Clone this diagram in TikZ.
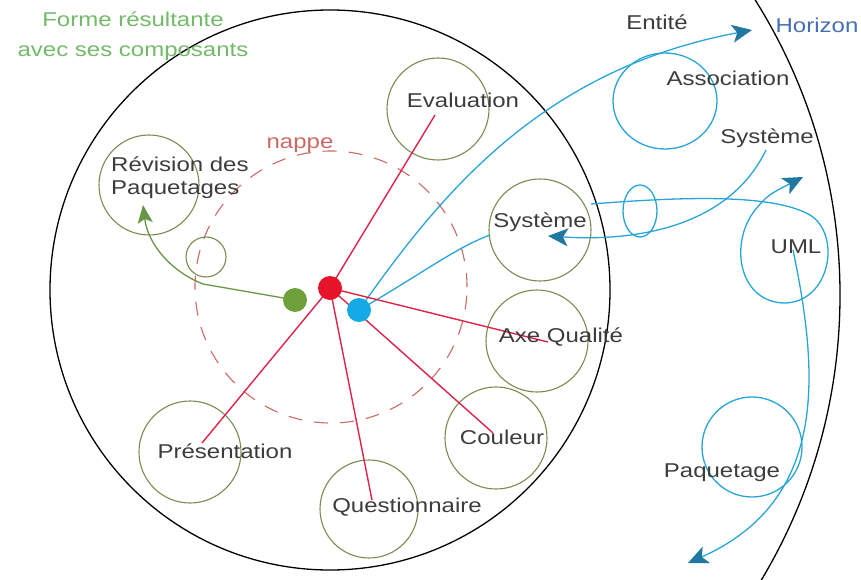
\documentclass[tikz,border=0pt]{standalone}
\usepackage{fontspec}
\setmainfont{Liberation Sans}[FakeStretch=1.2]
\usetikzlibrary{arrows.meta}
\definecolor{gcol}{RGB}{120,140,80}
\definecolor{rcol}{RGB}{222,35,75}
\definecolor{bcol}{RGB}{40,165,215}
\definecolor{dcol}{RGB}{205,105,100}
\definecolor{txtcol}{RGB}{60,60,60}
\definecolor{tipcol}{RGB}{30,120,160}
\definecolor{gtxt}{RGB}{115,185,105}
\definecolor{htxt}{RGB}{70,110,180}
\definecolor{garr}{RGB}{105,150,70}
\definecolor{rdotc}{RGB}{230,20,40}
\definecolor{gdotc}{RGB}{110,160,60}
\definecolor{bdotc}{RGB}{20,170,230}
\begin{document}
\begin{tikzpicture}[x=1pt,y=-1pt,
  comp/.style={draw=gcol,line width=1.1pt,circle,minimum size=#1,inner sep=0pt},
  lbl/.style={text=txtcol,inner sep=0pt,font=\fontsize{20}{23}\selectfont},
  rline/.style={draw=rcol,line width=1.4pt},
  bline/.style={draw=bcol,line width=1.3pt},
  dotn/.style={circle,minimum size=24pt,inner sep=0pt}]
\useasboundingbox (0,0) rectangle (861,580);
% horizon
\begin{scope}
\clip (0,0) rectangle (861,580);
\draw[black,line width=1.3pt] (285,295) circle[radius=555];
\end{scope}
% big world circle
\node[draw=black,line width=1.3pt,circle,minimum size=560pt,inner sep=0pt] (world) at (330,290) {};
% nappe
\node[draw=dcol,line width=1.1pt,dash pattern=on 14pt off 12pt,circle,minimum size=272pt,inner sep=0pt] (nappec) at (331,287) {};
% component circles
\node[comp=102pt] (eval) at (438,109) {};
\node[comp=100pt] (rev) at (149,185) {};
\node[comp=102pt] (sys) at (540,230) {};
\node[comp=102pt] (axe) at (537,341) {};
\node[comp=102pt] (coul) at (496,438) {};
\node[comp=102pt] (pres) at (190,452) {};
\node[comp=98pt] (quest) at (369,509) {};
\node[comp=40pt] (small) at (206,257) {};
% dots positions
\coordinate (rc) at (330,288);
\coordinate (gc) at (295,300);
\coordinate (bc) at (359,310);
% endpoints
\coordinate (evalE) at (435,115);
\coordinate (presE) at (202,443);
\coordinate (questE) at (372,500);
\coordinate (coulE) at (493,433);
\coordinate (axeE) at (548,342);
\coordinate (entTip) at (752,30);
\coordinate (sysW) at (490,235);
\coordinate (s2start) at (766,150);
\coordinate (sysTip) at (548,236);
\coordinate (sysE) at (591,204);
\coordinate (umlTip) at (803,177);
\coordinate (umlS) at (793,250);
\coordinate (paqTip) at (688,563);
\coordinate (gbend) at (203,284);
\coordinate (gtip) at (143,205);
% blue loops
\draw[bline] (640,211) ellipse[x radius=17,y radius=26];
\draw[bline] (665,101) ellipse[x radius=52,y radius=48];
\draw[bline] (752,447) circle[radius=50];
% blue connectors
\draw[bline,-{Stealth[length=20pt,width=18pt,inset=5pt,fill=tipcol,color=tipcol]}] (bc) .. controls (440,195) and (540,70) .. (entTip);
\draw[bline] (bc) .. controls (420,275) and (455,248) .. (sysW);
\draw[bline,-{Stealth[length=20pt,width=18pt,inset=5pt,fill=tipcol,color=tipcol]}] (s2start) .. controls (730,225) and (640,242) .. (sysTip);
\draw[bline,-{Stealth[length=20pt,width=18pt,inset=5pt,fill=tipcol,color=tipcol]}] (sysE) .. controls (670,198) and (770,192) .. (810,215)
  .. controls (842,235) and (830,302) .. (785,303)
  .. controls (740,303) and (728,245) .. (755,210)
  .. controls (768,195) .. (umlTip);
\draw[bline,-{Stealth[length=20pt,width=18pt,inset=5pt,fill=tipcol,color=tipcol]}] (umlS) .. controls (818,370) and (830,500) .. (paqTip);
% green arrow
\draw[draw=garr,line width=1.3pt,
  -{Stealth[length=18pt,width=15pt,inset=4pt,color=garr,fill=garr]}]
  (gc) -- (gbend) .. controls (172,272) and (148,245) .. (gtip);
% red lines
\draw[rline] (rc) -- (evalE);
\draw[rline] (rc) -- (presE);
\draw[rline] (rc) -- (questE);
\draw[rline] (rc) -- (coulE);
\draw[rline] (rc) -- (axeE);
% dots
\node[dotn,fill=rdotc] (rdot) at (rc) {};
\node[dotn,fill=gdotc] (gdot) at (gc) {};
\node[dotn,fill=bdotc] (bdot) at (bc) {};
% labels
\node[lbl] (tEval) at (463,100) {Evaluation};
\node[lbl,align=left,anchor=west] (tRev) at (111,178) {Révision des\\Paquetages};
\node[lbl] (tSys) at (540,222) {Système};
\node[lbl] (tAxe) at (561,337) {Axe Qualité};
\node[lbl] (tCoul) at (502,437) {Couleur};
\node[lbl] (tPres) at (225,451) {Présentation};
\node[lbl] (tQuest) at (407,507) {Questionnaire};
\node[lbl,text=dcol] (tNappe) at (300,145) {nappe};
\node[lbl,text=gtxt,align=center,font=\fontsize{20}{30}\selectfont] (tForme) at (133,36) {Forme résultante\\avec ses composants};
\node[lbl] (tEnt) at (657,22) {Entité};
\node[lbl,text=htxt] (tHor) at (817,25) {Horizon};
\node[lbl] (tAss) at (728,78) {Association};
\node[lbl] (tSys2) at (767,138) {Système};
\node[lbl] (tUML) at (796,247) {UML};
\node[lbl] (tPaq) at (722,473) {Paquetage};
\end{tikzpicture}
\end{document}
